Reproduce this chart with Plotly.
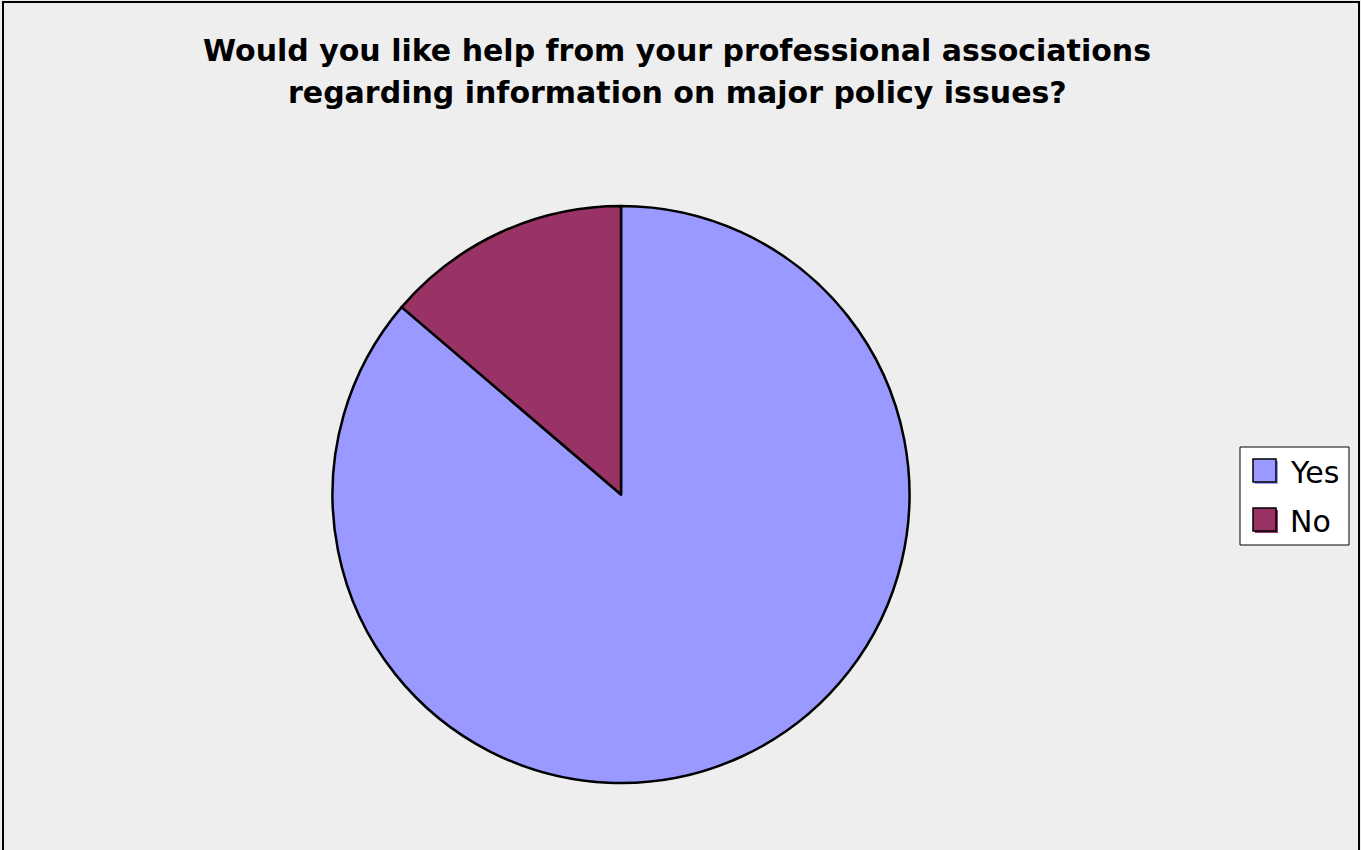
import plotly.graph_objects as go

labels = ["Yes", "No"]
values = [69, 11]
colors = ["#9999FF", "#993366"]
title_lines = [
    "Would you like help from your professional associations",
    "regarding information on major policy issues?",
]

W, H = 1361, 850


def px(x):
    return x / W


def py(y):
    return 1 - y / H


fig = go.Figure()
fig.add_trace(go.Pie(
    labels=labels,
    values=values,
    marker=dict(colors=colors, line=dict(color="black", width=2.5)),
    sort=False,
    direction="clockwise",
    rotation=0,
    textinfo="none",
    hoverinfo="label+value+percent",
    showlegend=False,
    domain=dict(x=[px(332), px(910)], y=[py(783), py(206)]),
))

shapes = [dict(
    type="rect", xref="paper", yref="paper",
    x0=px(3), x1=px(1359), y0=-0.05, y1=py(2),
    line=dict(color="black", width=2), fillcolor="rgba(0,0,0,0)",
    layer="below",
)]
annotations = []

for i, line in enumerate(title_lines):
    annotations.append(dict(
        text=line, xref="paper", yref="paper",
        x=px(677), y=py(50 + 42 * i), xanchor="center", yanchor="middle",
        showarrow=False,
        font=dict(family="DejaVu Sans", size=30, color="black", weight="bold"),
    ))

# legend box
shapes.append(dict(
    type="rect", xref="paper", yref="paper",
    x0=px(1240), x1=px(1349), y0=py(545), y1=py(447),
    line=dict(color="black", width=1), fillcolor="white",
))
for i, (lab, col) in enumerate(zip(labels, colors)):
    cy = 471 + 49 * i
    # shadow
    shapes.append(dict(
        type="rect", xref="paper", yref="paper",
        x0=px(1255), x1=px(1278), y0=py(cy + 13), y1=py(cy - 10),
        line=dict(width=0), fillcolor=col,
    ))
    shapes.append(dict(
        type="rect", xref="paper", yref="paper",
        x0=px(1253), x1=px(1276), y0=py(cy + 11), y1=py(cy - 12),
        line=dict(color="black", width=1.5), fillcolor=col,
    ))
    annotations.append(dict(
        text=lab, xref="paper", yref="paper",
        x=px(1288), y=py(cy + 1), xanchor="left", yanchor="middle",
        showarrow=False,
        font=dict(family="DejaVu Sans", size=30, color="black"),
    ))

fig.update_layout(
    width=W, height=H,
    margin=dict(l=0, r=0, t=0, b=0),
    paper_bgcolor="#EEEEEE",
    plot_bgcolor="#EEEEEE",
    showlegend=False,
    shapes=shapes,
    annotations=annotations,
)

fig.write_html("out.html")
